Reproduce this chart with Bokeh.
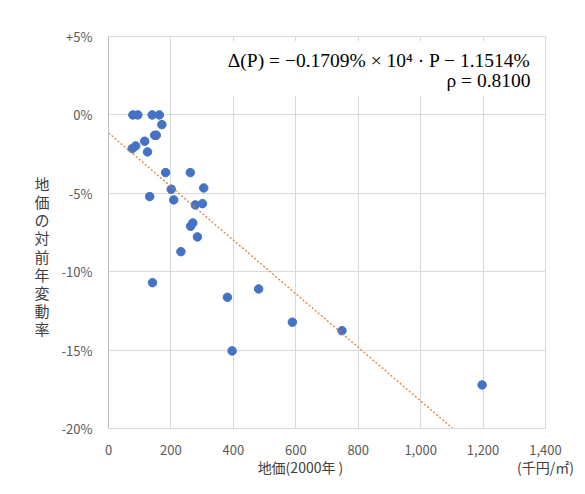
from bokeh.plotting import figure
from bokeh.models import Range1d, FixedTicker, Label, BoxAnnotation, ColumnDataSource, LinearAxis
from bokeh.embed import file_html
from bokeh.resources import INLINE

# Data: land price (2000, 千円/㎡) vs annual change rate (%)
land_price = [78, 94, 140, 163, 171, 148, 153, 116, 76, 87, 125, 183, 262, 201, 305,
              132, 209, 278, 301, 263, 270, 285, 232, 381, 481, 589, 748, 396, 141, 1197]
change_rate = [0.0, 0.0, 0.0, 0.0, -0.62, -1.30, -1.30, -1.68, -2.15, -1.98, -2.36, -3.68,
               -3.68, -4.74, -4.66, -5.21, -5.42, -5.74, -5.66, -7.10, -6.89, -7.78, -8.72,
               -11.63, -11.10, -13.22, -13.76, -15.05, -10.70, -17.22]

slope = -0.01709      # % per 千円/㎡
intercept = -1.1514   # %
trend_x = [0, 1400]
trend_y = [intercept + slope * v for v in trend_x]

x_ticks = [0, 200, 400, 600, 800, 1000, 1200, 1400]
x_tick_labels = ["0", "200", "400", "600", "800", "1,000", "1,200", "1,400"]
y_ticks = [5, 0, -5, -10, -15, -20]
y_tick_labels = ["+5%", "0%", "-5%", "-10%", "-15%", "-20%"]

eq_line1 = "Δ(P) = −0.1709% × 10⁴ · P − 1.1514%"
eq_line2 = "ρ = 0.8100"
x_title = "地価(2000年 )"
x_unit = "(千円/㎡)"
y_title = "\n".join("地価の対前年変動率")

font = "Noto Sans CJK JP"

p = figure(width=584, height=492, output_backend="svg", toolbar_location=None,
           x_range=Range1d(0, 1400), y_range=Range1d(-20, 5),
           min_border_left=108, min_border_top=36, min_border_right=39, min_border_bottom=64)
p.outline_line_color = "#d9d9d9"
p.background_fill_color = "white"
p.border_fill_color = "white"

p.xaxis.ticker = FixedTicker(ticks=x_ticks)
p.xaxis.major_label_overrides = {t: l for t, l in zip(x_ticks, x_tick_labels)}
p.yaxis.ticker = FixedTicker(ticks=y_ticks)
p.yaxis.major_label_overrides = {t: l for t, l in zip(y_ticks, y_tick_labels)}
for ax in (p.xaxis[0], p.yaxis[0]):
    ax.major_tick_line_color = None
    ax.minor_tick_line_color = None
    ax.axis_line_color = "#bfbfbf"
    ax.major_label_text_font = font
    ax.major_label_text_font_size = "13px"
    ax.major_label_text_color = "#595959"
    ax.major_label_standoff = 10
p.xaxis.axis_line_color = "#d9d9d9"
p.xgrid.grid_line_color = "#d9d9d9"
p.ygrid.grid_line_color = "#d9d9d9"
p.xgrid.ticker = FixedTicker(ticks=x_ticks)
p.ygrid.ticker = FixedTicker(ticks=y_ticks)

# Axis titles drawn as extra tick-label-only axes (placed outside the frame)
x_title_ticks = [615, 1400]
x_title_axis = LinearAxis(ticker=FixedTicker(ticks=x_title_ticks),
                          major_label_overrides={615: x_title, 1400: x_unit})
y_title_ticks = [-9.0]
y_title_axis = LinearAxis(ticker=FixedTicker(ticks=y_title_ticks),
                          major_label_overrides={-9.0: y_title})
for ax in (x_title_axis, y_title_axis):
    ax.axis_line_color = None
    ax.major_tick_line_color = None
    ax.minor_tick_line_color = None
    ax.major_label_text_font = font
    ax.major_label_text_color = "#404040"
x_title_axis.major_label_text_font_size = "14px"
x_title_axis.major_label_standoff = -7
y_title_axis.major_label_text_font_size = "15px"
y_title_axis.major_label_text_line_height = 0.86
y_title_axis.major_label_standoff = 3
y_title_axis.major_label_orientation = "horizontal"
p.add_layout(x_title_axis, "below")
p.add_layout(y_title_axis, "left")

src = ColumnDataSource(dict(x=land_price, y=change_rate))
p.scatter("x", "y", source=src, size=8.5, fill_color="#4472C4", line_color="#4472C4")
p.line(trend_x, trend_y, line_color="#ED7D31", line_width=1.3, line_dash="2 2")

p.add_layout(BoxAnnotation(left=375, right=1384, bottom=1.21, top=4.72,
                           fill_color="white", fill_alpha=1.0, line_color=None))
p.add_layout(Label(x=1352, y=3.44, text=eq_line1, text_align="right", text_baseline="middle",
                   text_font="Liberation Serif", text_font_size="19.5px", text_color="black"))
p.add_layout(Label(x=1352, y=2.17, text=eq_line2, text_align="right", text_baseline="middle",
                   text_font="Liberation Serif", text_font_size="19.5px", text_color="black"))

open("out.html", "w").write(file_html(p, INLINE))
